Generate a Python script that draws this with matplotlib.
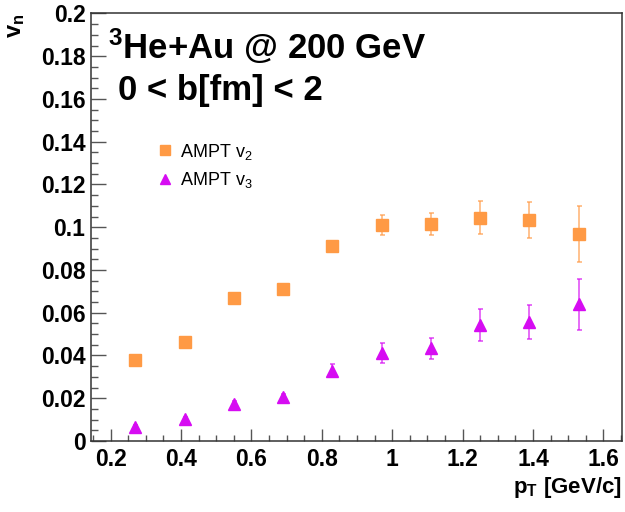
import matplotlib
matplotlib.use('Agg')
import matplotlib.pyplot as plt
from matplotlib.ticker import MultipleLocator, FuncFormatter

plt.rcParams['font.family'] = ['Liberation Sans', 'DejaVu Sans']
plt.rcParams['mathtext.default'] = 'regular'

# pT bins
pt = [0.27, 0.41, 0.55, 0.69, 0.83, 0.97, 1.11, 1.25, 1.39, 1.53]

# AMPT v2
v2 = [0.038, 0.0465, 0.067, 0.0713, 0.091, 0.101, 0.1015, 0.1045, 0.1033, 0.0967]
v2_err = [0.0008, 0.001, 0.0012, 0.0013, 0.0018, 0.0047, 0.0053, 0.0078, 0.0085, 0.013]

# AMPT v3
v3 = [0.0067, 0.0103, 0.0173, 0.0204, 0.0328, 0.041, 0.0433, 0.0543, 0.0555, 0.064]
v3_err = [0.0007, 0.0009, 0.0012, 0.0014, 0.003, 0.0047, 0.0051, 0.0074, 0.008, 0.012]

orange = '#ff9a45'
magenta = '#d60cf2'

fig = plt.figure(figsize=(6.25, 5.12), dpi=100)
ax = fig.add_axes([0.1456, 0.1387, 0.849, 0.835])

ax.errorbar(pt, v2, yerr=v2_err, fmt='none', ecolor=orange, elinewidth=1.2,
            capsize=1.8, capthick=1.2, alpha=0.7, zorder=2)
ax.plot(pt, v2, 's', color=orange, markersize=8, label='AMPT v$_2$', zorder=3)
ax.errorbar(pt, v3, yerr=v3_err, fmt='none', ecolor=magenta, elinewidth=1.2,
            capsize=1.8, capthick=1.2, alpha=0.7, zorder=2)
ax.plot(pt, v3, '^', color=magenta, markersize=8, label='AMPT v$_3$', zorder=3)

ax.set_xlim(0.144, 1.652)
ax.set_ylim(0, 0.2)

ax.xaxis.set_major_locator(MultipleLocator(0.2))
ax.xaxis.set_minor_locator(MultipleLocator(0.05))
ax.yaxis.set_major_locator(MultipleLocator(0.02))
ax.yaxis.set_minor_locator(MultipleLocator(0.005))
fmt = FuncFormatter(lambda v, p: '%g' % round(v, 3))
ax.xaxis.set_major_formatter(fmt)
ax.yaxis.set_major_formatter(fmt)

ax.tick_params(which='both', direction='in', top=False, right=False,
               color='#555555', width=1)
ax.tick_params(axis='x', which='major', length=8.5, pad=5)
ax.tick_params(axis='x', which='minor', length=4)
ax.tick_params(axis='y', which='major', length=11, pad=4)
ax.tick_params(axis='y', which='minor', length=5)
for lab in ax.get_xticklabels() + ax.get_yticklabels():
    lab.set_fontsize(16.5)
    lab.set_fontweight('bold')
for s in ax.spines.values():
    s.set_color('#333333')
    s.set_linewidth(1.1)

ax.text(-0.143, 1.0, 'v$_n$', transform=ax.transAxes, rotation=90,
        ha='center', va='top', fontsize=17, fontweight='bold')
fig.text(622 / 625, 19 / 512, 'p$_T$ [GeV/c]', ha='right', va='baseline',
         fontsize=16, fontweight='bold')

fig.text(108 / 625, (512 - 59) / 512, '$^3$He+Au @ 200 GeV', ha='left',
         va='baseline', fontsize=25, fontweight='bold')
fig.text(118 / 625, (512 - 100) / 512, '0 < b[fm] < 2', ha='left',
         va='baseline', fontsize=25, fontweight='bold')

ax.legend(loc='upper left', bbox_to_anchor=(0.1224, 0.70), frameon=False,
          fontsize=13, handlelength=1.0, handletextpad=0.33, borderpad=0,
          borderaxespad=0, labelspacing=0.45, markerscale=0.85)

fig.savefig('out.png', dpi=100)
